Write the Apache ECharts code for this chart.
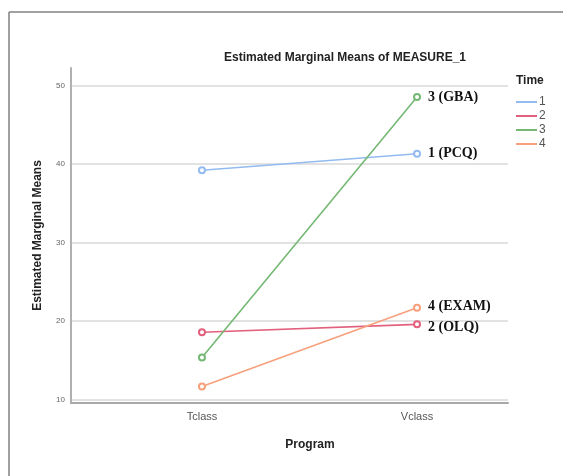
<!DOCTYPE html>
<html>
<head>
<meta charset="utf-8">
<script src="https://cdn.jsdelivr.net/npm/echarts@6/dist/echarts.min.js"></script>
<style>
html,body{margin:0;padding:0;background:#fff;}
#chart{width:563px;height:476px;}
</style>
</head>
<body>
<div id="chart"></div>
<script>
// ---- data ----
const categories = ['Tclass', 'Vclass'];
const seriesNames = ['1', '2', '3', '4'];
const time1 = [39.2, 41.3];
const time2 = [18.6, 19.6];
const time3 = [15.4, 48.5];
const time4 = [11.7, 21.7];
const annotations = ['1 (PCQ)', '2 (OLQ)', '3 (GBA)', '4 (EXAM)'];
const yTicks = [10, 20, 30, 40, 50];
const colors = ['#93bbf0', '#e2607d', '#74b874', '#f8a07c'];

const allValues = [time1, time2, time3, time4];
const labelOffsets = [[0, 0], [0, 3], [0, 0], [0, -1]];

const chart = echarts.init(document.getElementById('chart'));
const font = 'Liberation Sans, Arial, sans-serif';

const series = allValues.map((vals, i) => ({
  name: seriesNames[i],
  type: 'line',
  data: vals.map((v, j) => [j, v]),
  symbol: 'emptyCircle',
  symbolSize: 6,
  lineStyle: { color: colors[i], width: 1.6 },
  itemStyle: { color: colors[i], borderWidth: 1.5 },
  endLabel: {
    show: true,
    formatter: annotations[i],
    fontFamily: 'Liberation Serif, Times New Roman, serif',
    fontWeight: 'bold',
    fontSize: 14,
    color: '#111',
    distance: 11,
    offset: labelOffsets[i]
  },
  emphasis: { disabled: true },
  animation: false
}));

chart.setOption({
  backgroundColor: '#fff',
  animation: false,
  title: [
    { text: 'Estimated Marginal Means of MEASURE_1', left: 340, top: 47, textAlign: 'center',
      textStyle: { fontFamily: font, fontSize: 12, fontWeight: 'bold', color: '#222' } },
    { text: 'Time', left: 511, top: 70,
      textStyle: { fontFamily: font, fontSize: 12, fontWeight: 'bold', color: '#222' } },
    { text: 'Program', left: 305, top: 434, textAlign: 'center',
      textStyle: { fontFamily: font, fontSize: 12, fontWeight: 'bold', color: '#222' } }
  ],
  legend: {
    orient: 'vertical',
    left: 511,
    top: 91,
    itemWidth: 21,
    itemHeight: 2,
    itemGap: 2,
    icon: 'rect',
    data: seriesNames,
    textStyle: { fontFamily: font, fontSize: 12, color: '#555', padding: [0, 0, 0, -3] }
  },
  grid: { left: 71, right: 55, top: 68, bottom: 73, containLabel: false },
  xAxis: {
    type: 'value',
    min: -0.609,
    max: 1.423,
    axisLine: { show: true, onZero: false, lineStyle: { color: '#a8a8a8', width: 2 } },
    axisTick: { show: false },
    splitLine: { show: false },
    axisLabel: {
      customValues: [0, 1],
      formatter: v => categories[Math.round(v)],
      fontFamily: font, fontSize: 11, color: '#555', margin: 8
    }
  },
  yAxis: {
    type: 'value',
    min: 9.6,
    max: 52.2,
    name: 'Estimated Marginal Means',
    nameLocation: 'middle',
    nameGap: 27,
    nameTextStyle: { fontFamily: font, fontSize: 12, fontWeight: 'bold', color: '#222' },
    axisLine: { show: true, onZero: false, lineStyle: { color: '#b0b0b0', width: 2 } },
    axisTick: { show: false, customValues: yTicks },
    splitLine: { show: true, lineStyle: { color: '#d8d8d8', width: 1.5 } },
    axisLabel: {
      customValues: yTicks,
      fontFamily: font, fontSize: 8, color: '#666', margin: 6
    }
  },
  graphic: [
    { type: 'line', shape: { x1: 9, y1: 12, x2: 563, y2: 12 }, style: { stroke: '#808080', lineWidth: 1.5 } },
    { type: 'line', shape: { x1: 9, y1: 12, x2: 9, y2: 476 }, style: { stroke: '#808080', lineWidth: 1.5 } }
  ],
  series: series
});
</script>
</body>
</html>
